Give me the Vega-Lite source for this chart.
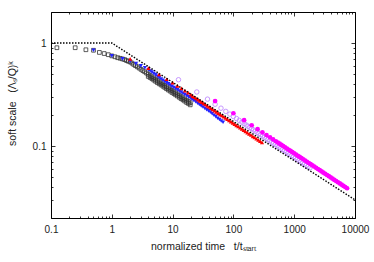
{
  "$schema": "https://vega.github.io/schema/vega-lite/v6.json",
  "width": 304,
  "height": 206,
  "autosize": {"type": "none"},
  "padding": {"left": 51, "top": 12, "right": 19, "bottom": 44},
  "background": "white",
  "config": {
    "view": {"stroke": "#000", "strokeWidth": 1},
    "font": "Liberation Sans",
    "axis": {
      "labelFont": "Liberation Sans", "labelFontSize": 10, "labelColor": "#222",
      "titleFont": "Liberation Sans", "titleFontSize": 10.5, "titleFontWeight": "normal", "titleColor": "#222",
      "domain": false, "grid": false, "tickColor": "#000", "tickWidth": 0.8
    }
  },
  "datasets": {
    "sq": [
      {"t":0.125,"y":0.90},{"t":0.25,"y":0.90},{"t":0.375,"y":0.86},{"t":0.5,"y":0.85},{"t":0.625,"y":0.81},{"t":0.75,"y":0.79},{"t":0.875,"y":0.77},{"t":1,"y":0.75},{"t":1.125,"y":0.735},{"t":1.25,"y":0.72},{"t":1.375,"y":0.71},{"t":1.5,"y":0.70},{"t":1.625,"y":0.69},{"t":1.75,"y":0.675},{"t":1.875,"y":0.665},{"t":2,"y":0.655},
      {"t":2.14,"y":0.638},{"t":2.29,"y":0.620},{"t":2.45,"y":0.603},{"t":2.63,"y":0.587},{"t":2.82,"y":0.571},{"t":3.02,"y":0.555},{"t":3.24,"y":0.540},{"t":3.47,"y":0.526},{"t":3.72,"y":0.511},{"t":3.98,"y":0.497},{"t":4.27,"y":0.484},{"t":4.57,"y":0.471},{"t":4.90,"y":0.458},{"t":5.25,"y":0.445},{"t":5.62,"y":0.433},{"t":6.03,"y":0.421},{"t":6.46,"y":0.410},{"t":6.92,"y":0.399},{"t":7.41,"y":0.388},{"t":7.94,"y":0.377},{"t":8.51,"y":0.367},{"t":9.12,"y":0.357},{"t":9.77,"y":0.347},{"t":10.5,"y":0.338},{"t":11.2,"y":0.329},{"t":12.0,"y":0.320},{"t":12.9,"y":0.311},{"t":13.8,"y":0.302},{"t":14.8,"y":0.294},{"t":15.8,"y":0.286},{"t":17.0,"y":0.278},{"t":18.2,"y":0.271},{"t":19.5,"y":0.263},
      {"t":3.98,"y":0.474},{"t":4.27,"y":0.462},{"t":4.57,"y":0.450},{"t":4.90,"y":0.437},{"t":5.25,"y":0.425},{"t":5.62,"y":0.413},{"t":6.03,"y":0.402},{"t":6.46,"y":0.392},{"t":6.92,"y":0.381},{"t":7.41,"y":0.371},{"t":7.94,"y":0.360},{"t":8.51,"y":0.350},{"t":9.12,"y":0.341},{"t":9.77,"y":0.331},{"t":10.5,"y":0.323},{"t":11.2,"y":0.314},{"t":12.0,"y":0.306},{"t":12.9,"y":0.297},{"t":13.8,"y":0.288},{"t":14.8,"y":0.281},{"t":15.8,"y":0.273},{"t":17.0,"y":0.265},{"t":18.2,"y":0.259},{"t":19.5,"y":0.251}
    ],
    "bl": [
      {"t":0.5,"y":0.85},{"t":1,"y":0.75},{"t":1.5,"y":0.70},{"t":2,"y":0.665},{"t":2.5,"y":0.63},{"t":3,"y":0.60},{"t":3.5,"y":0.575},{"t":4,"y":0.55},
      {"t":4.27,"y":0.535},{"t":4.57,"y":0.521},{"t":4.90,"y":0.506},{"t":5.25,"y":0.491},{"t":5.62,"y":0.476},{"t":6.03,"y":0.462},{"t":6.46,"y":0.447},{"t":6.92,"y":0.435},{"t":7.41,"y":0.423},{"t":7.94,"y":0.412},{"t":8.51,"y":0.401},{"t":9.12,"y":0.390},{"t":9.77,"y":0.380},{"t":10.5,"y":0.370},{"t":11.2,"y":0.360},{"t":12.0,"y":0.352},{"t":12.9,"y":0.342},{"t":13.8,"y":0.333},{"t":14.8,"y":0.325},{"t":15.8,"y":0.316},{"t":17.0,"y":0.308},{"t":18.2,"y":0.300},{"t":19.5,"y":0.293},{"t":20.9,"y":0.284},{"t":22.4,"y":0.276},{"t":24.0,"y":0.269},{"t":25.7,"y":0.261},{"t":27.5,"y":0.253},{"t":29.5,"y":0.245},{"t":31.6,"y":0.239},{"t":33.9,"y":0.232},{"t":36.3,"y":0.225},{"t":38.9,"y":0.219},{"t":41.7,"y":0.213},{"t":44.7,"y":0.206},{"t":47.9,"y":0.199},{"t":51.3,"y":0.193},{"t":55.0,"y":0.186},{"t":58.9,"y":0.181},{"t":63.1,"y":0.175},{"t":67.6,"y":0.170}
    ],
    "rd": [
      {"t":2,"y":0.70},{"t":4,"y":0.57},{"t":6,"y":0.495},{"t":8,"y":0.445},{"t":10,"y":0.412},{"t":12,"y":0.384},{"t":14,"y":0.362},{"t":16,"y":0.344},{"t":18,"y":0.329},{"t":20,"y":0.316},
      {"t":21.4,"y":0.3055},{"t":22.9,"y":0.2974},{"t":24.5,"y":0.2893},{"t":26.3,"y":0.2817},{"t":28.2,"y":0.274},{"t":30.2,"y":0.267},{"t":32.4,"y":0.2598},{"t":34.7,"y":0.2527},{"t":37.2,"y":0.2456},{"t":39.8,"y":0.2391},{"t":42.7,"y":0.2327},{"t":45.7,"y":0.2264},{"t":49.0,"y":0.2204},{"t":52.5,"y":0.2145},{"t":56.2,"y":0.2087},{"t":60.3,"y":0.2031},{"t":64.6,"y":0.1977},{"t":69.2,"y":0.1923},{"t":74.1,"y":0.1871},{"t":79.4,"y":0.1821},{"t":85.1,"y":0.1772},{"t":91.2,"y":0.1725},{"t":97.7,"y":0.1678},{"t":104.7,"y":0.1633},{"t":112.2,"y":0.1588},{"t":120.2,"y":0.1546},{"t":128.8,"y":0.1505},{"t":138.0,"y":0.1465},{"t":147.9,"y":0.1425},{"t":158.5,"y":0.1386},{"t":169.8,"y":0.135},{"t":182.0,"y":0.1313},{"t":195.0,"y":0.1278},{"t":208.9,"y":0.1242},{"t":223.9,"y":0.121},{"t":239.9,"y":0.1177},{"t":257.0,"y":0.1146},{"t":275.4,"y":0.1114},{"t":295.1,"y":0.1085}
    ],
    "pu": [
      {"t":12.5,"y":0.44},{"t":25,"y":0.3346},{"t":37.5,"y":0.2851},{"t":50,"y":0.2544},{"t":62.5,"y":0.2330},{"t":75,"y":0.2168},{"t":87.5,"y":0.2040},{"t":100,"y":0.1935},{"t":112.5,"y":0.1848},{"t":125,"y":0.1772},{"t":137.5,"y":0.1707},{"t":150,"y":0.1649},
      {"t":162.2,"y":0.1599},{"t":173.8,"y":0.1556},{"t":186.2,"y":0.1514},{"t":199.5,"y":0.1473},{"t":213.8,"y":0.1433},{"t":229.1,"y":0.1395},{"t":245.5,"y":0.1357},{"t":263.0,"y":0.1321},{"t":281.8,"y":0.1285},{"t":302.0,"y":0.1251},{"t":323.6,"y":0.1217},{"t":346.7,"y":0.1184},{"t":371.5,"y":0.1152},{"t":398.1,"y":0.1121},{"t":426.6,"y":0.1091},{"t":457.1,"y":0.1062},{"t":489.8,"y":0.1033},{"t":524.8,"y":0.1006},{"t":562.3,"y":0.0978},{"t":602.6,"y":0.0952},{"t":645.7,"y":0.0926},{"t":691.8,"y":0.0902},{"t":741.3,"y":0.0877},{"t":794.3,"y":0.0854},{"t":851.1,"y":0.0831},{"t":912.0,"y":0.0808},{"t":977.2,"y":0.0787},{"t":1047,"y":0.0765},{"t":1122,"y":0.0745},{"t":1202,"y":0.0725},{"t":1288,"y":0.0705},{"t":1380,"y":0.0686},{"t":1479,"y":0.0668},{"t":1585,"y":0.0650},{"t":1698,"y":0.0632},{"t":1820,"y":0.0615}
    ],
    "mg": [
      {"t":50,"y":0.273},{"t":100,"y":0.208},{"t":150,"y":0.178},{"t":200,"y":0.159},{"t":250,"y":0.1457},{"t":300,"y":0.1357},{"t":350,"y":0.1278},{"t":400,"y":0.1213},{"t":450,"y":0.1159},{"t":500,"y":0.1112},
      {"t":537,"y":0.1082},{"t":575,"y":0.1053},{"t":617,"y":0.1025},{"t":661,"y":0.0998},{"t":708,"y":0.0971},{"t":759,"y":0.0945},{"t":813,"y":0.0920},{"t":871,"y":0.0896},{"t":933,"y":0.0872},{"t":1000,"y":0.0849},{"t":1072,"y":0.0826},{"t":1148,"y":0.0804},{"t":1230,"y":0.0783},{"t":1318,"y":0.0762},{"t":1413,"y":0.0742},{"t":1514,"y":0.0722},{"t":1622,"y":0.0703},{"t":1738,"y":0.0684},{"t":1862,"y":0.0666},{"t":1995,"y":0.0648},{"t":2138,"y":0.0631},{"t":2291,"y":0.0614},{"t":2455,"y":0.0598},{"t":2630,"y":0.0582},{"t":2818,"y":0.0567},{"t":3020,"y":0.0551},{"t":3236,"y":0.0537},{"t":3467,"y":0.0523},{"t":3715,"y":0.0509},{"t":3981,"y":0.0495},{"t":4266,"y":0.0482},{"t":4571,"y":0.0469},{"t":4898,"y":0.0457},{"t":5248,"y":0.0445},{"t":5623,"y":0.0433},{"t":6026,"y":0.0421},{"t":6457,"y":0.0410},{"t":6918,"y":0.0399},{"t":7413,"y":0.0389}
    ],
    "ln": [
      {"t":0.1,"y":1},{"t":1,"y":1},{"t":10000,"y":0.03}
    ]
  },
  "resolve": {"axis": {"x": "independent", "y": "independent"}},
  "layer": [
    {
      "data": {"name": "sq"},
      "mark": {"type": "point", "shape": "square", "filled": false, "stroke": "#333", "strokeWidth": 0.8, "size": 14, "opacity": 1},
      "encoding": {
        "x": {"field": "t", "type": "quantitative",
          "scale": {"type": "log", "domain": [0.1, 10000], "nice": false},
          "axis": {
            "orient": "bottom",
            "values": [0.1,0.2,0.3,0.4,0.5,0.6,0.7,0.8,0.9,1,2,3,4,5,6,7,8,9,10,20,30,40,50,60,70,80,90,100,200,300,400,500,600,700,800,900,1000,2000,3000,4000,5000,6000,7000,8000,9000,10000],
            "format": "~g",
            "labelExpr": "indexof([0.1,1,10,100,1000,10000], datum.value) >= 0 ? datum.label : ''",
            "tickSize": {"condition": {"test": "indexof([0.1,1,10,100,1000,10000], datum.value) >= 0", "value": -4}, "value": -2},
            "labelPadding": 10,
            "labelFlush": false,
            "title": "normalized time\u00a0\u00a0\u00a0t/tₛₜₐᵣₜ",
            "titleBaseline": "alphabetic",
            "titleY": 31
          }},
        "y": {"field": "y", "type": "quantitative",
          "scale": {"type": "log", "domain": [0.02, 2], "nice": false},
          "axis": {
            "orient": "left",
            "values": [0.02,0.03,0.04,0.05,0.06,0.07,0.08,0.09,0.1,0.2,0.3,0.4,0.5,0.6,0.7,0.8,0.9,1,2],
            "format": "~g",
            "labelExpr": "indexof([0.1,1], datum.value) >= 0 ? datum.label : ''",
            "tickSize": {"condition": {"test": "indexof([0.1,1], datum.value) >= 0", "value": -4}, "value": -2},
            "labelPadding": 9,
            "labelFlush": false,
            "title": "soft scale\u00a0\u00a0\u00a0(Λₛ/Q)ᵏ",
            "titleAngle": -90,
            "titleAlign": "center",
            "titleBaseline": "middle",
            "titleX": -39,
            "titleY": 91
          }}
      }
    },
    {
      "data": {"name": "bl"},
      "mark": {"type": "point", "shape": "triangle-down", "filled": true, "color": "#2424ff", "size": 18, "opacity": 1},
      "encoding": {
        "x": {"field": "t", "type": "quantitative",
          "axis": {
            "orient": "top",
            "values": [0.1,0.2,0.3,0.4,0.5,0.6,0.7,0.8,0.9,1,2,3,4,5,6,7,8,9,10,20,30,40,50,60,70,80,90,100,200,300,400,500,600,700,800,900,1000,2000,3000,4000,5000,6000,7000,8000,9000,10000],
            "labels": false, "title": null,
            "tickSize": {"condition": {"test": "indexof([0.1,1,10,100,1000,10000], datum.value) >= 0", "value": -4}, "value": -2}
          }},
        "y": {"field": "y", "type": "quantitative",
          "axis": {
            "orient": "right",
            "values": [0.02,0.03,0.04,0.05,0.06,0.07,0.08,0.09,0.1,0.2,0.3,0.4,0.5,0.6,0.7,0.8,0.9,1,2],
            "labels": false, "title": null,
            "tickSize": {"condition": {"test": "indexof([0.1,1], datum.value) >= 0", "value": -4}, "value": -2}
          }}
      }
    },
    {
      "data": {"name": "rd"},
      "mark": {"type": "point", "shape": "triangle-up", "filled": true, "color": "#ff0000", "size": 18, "opacity": 1},
      "encoding": {
        "x": {"field": "t", "type": "quantitative", "axis": null},
        "y": {"field": "y", "type": "quantitative", "axis": null}
      }
    },
    {
      "data": {"name": "pu"},
      "mark": {"type": "point", "shape": "circle", "filled": false, "stroke": "#bf8cff", "strokeWidth": 0.9, "size": 20, "opacity": 1},
      "encoding": {
        "x": {"field": "t", "type": "quantitative", "axis": null},
        "y": {"field": "y", "type": "quantitative", "axis": null}
      }
    },
    {
      "data": {"name": "mg"},
      "mark": {"type": "point", "shape": "circle", "filled": true, "color": "#ff00ff", "size": 22, "opacity": 1},
      "encoding": {
        "x": {"field": "t", "type": "quantitative", "axis": null},
        "y": {"field": "y", "type": "quantitative", "axis": null}
      }
    },
    {
      "data": {"name": "ln"},
      "mark": {"type": "line", "color": "#000", "strokeWidth": 1.4, "strokeDash": [1.5, 1.5]},
      "encoding": {
        "x": {"field": "t", "type": "quantitative", "axis": null},
        "y": {"field": "y", "type": "quantitative", "axis": null}
      }
    }
  ]
}
